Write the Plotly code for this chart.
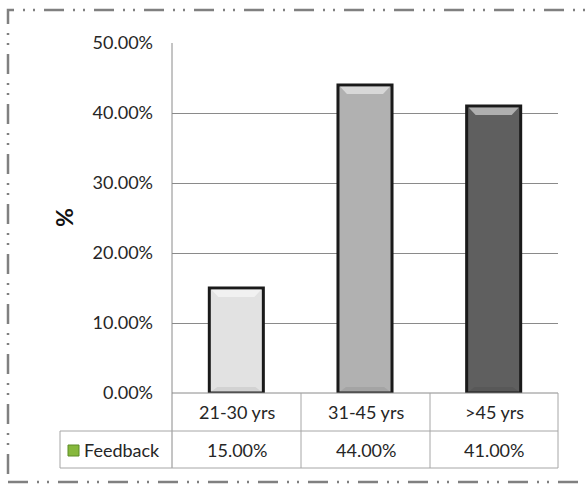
import plotly.graph_objects as go

# Feedback share by age group
categories = ["21-30 yrs", "31-45 yrs", ">45 yrs"]
feedback_pct = [15.0, 44.0, 41.0]
series_name = "Feedback"
bar_colors = ["#e2e2e2", "#b1b1b1", "#5f5f5f"]
y_ticks = [0, 10, 20, 30, 40, 50]

W, H = 587, 485
L, R, T, B = 172, 29, 43, 92
PW, PH = W - L - R, H - T - B
FONT = "Lato"
FS = 18
GRID = "#8a8a8a"
TABLE_LINE = "#a6a6a6"
TEXT = "#262626"


def px(x):
    return (x - L) / PW


def py(y):
    return (H - B - y) / PH


xs = list(range(len(categories)))
bar_w = 0.42

fig = go.Figure()
fig.add_trace(go.Bar(
    x=xs, y=feedback_pct, width=bar_w, name=series_name,
    marker=dict(color=bar_colors, line=dict(color="#1a1a1a", width=3)),
    showlegend=False, hoverinfo="skip",
))

# bevel highlight on the top of every bar, and a soft shade at its foot
u_x = 1 / 129.0          # one pixel in category units
u_y = 50.0 / PH          # one pixel in value units
for x, v in zip(xs, feedback_pct):
    hw = bar_w / 2
    top = v - 1.5 * u_y
    low = v - 9 * u_y
    fig.add_trace(go.Scatter(
        x=[x - hw + 2 * u_x, x + hw - 2 * u_x, x + hw - 9 * u_x, x - hw + 9 * u_x, x - hw + 2 * u_x],
        y=[top, top, low, low, top],
        fill="toself", mode="lines", line=dict(width=0),
        fillcolor="rgba(255,255,255,0.5)", showlegend=False, hoverinfo="skip",
    ))
    bot = 1.5 * u_y
    up = 6 * u_y
    fig.add_trace(go.Scatter(
        x=[x - hw + 2 * u_x, x + hw - 2 * u_x, x + hw - 8 * u_x, x - hw + 8 * u_x, x - hw + 2 * u_x],
        y=[bot, bot, up, up, bot],
        fill="toself", mode="lines", line=dict(width=0),
        fillcolor="rgba(0,0,0,0.07)", showlegend=False, hoverinfo="skip",
    ))

fig.update_layout(
    width=W, height=H,
    margin=dict(l=L, r=R, t=T, b=B),
    paper_bgcolor="white", plot_bgcolor="white",
    font=dict(family=FONT, size=FS, color=TEXT),
    xaxis=dict(range=[-0.5, len(categories) - 0.5], showgrid=False, zeroline=False,
               showticklabels=False, showline=False, fixedrange=True),
    yaxis=dict(range=[0, 50], tickvals=y_ticks,
               ticktext=[f"{t:.2f}%" for t in y_ticks],
               showgrid=True, gridcolor=GRID, gridwidth=1, zeroline=False,
               showline=False, ticks="", ticklabelstandoff=18,
               tickfont=dict(family=FONT, size=FS, color=TEXT)),
)

shapes = []


def seg(x0, y0, x1, y1, color=TABLE_LINE, width=1):
    shapes.append(dict(type="line", xref="paper", yref="paper",
                       x0=px(x0), y0=py(y0), x1=px(x1), y1=py(y1),
                       line=dict(color=color, width=width)))


# value axis line, running down through the data table
seg(172, 43, 172, 468, GRID)
# data table grid
row1, row2, row3 = 393, 431, 468
cols = [172, 301, 430, 558]
seg(172, row1, 558, row1, GRID)
seg(60, row2, 558, row2)
seg(60, row3, 558, row3)
seg(60, row2, 60, row3)
for c in cols[1:]:
    seg(c, row1, c, row3)

# legend key
shapes.append(dict(type="rect", xref="paper", yref="paper",
                   x0=px(68), y0=py(456), x1=px(79), y1=py(445),
                   fillcolor="#86b83c", line=dict(color="#5c8c26", width=1)))

# outer chart frame
shapes.append(dict(type="rect", xref="paper", yref="paper",
                   x0=px(8), y0=py(482), x1=px(600), y1=py(10),
                   line=dict(color="#808080", width=2.5, dash="20px,9px,2px,8px,2px,9px"),
                   fillcolor="rgba(0,0,0,0)", layer="above"))
fig.update_layout(shapes=shapes)

annotations = []
for i, (cat, v) in enumerate(zip(categories, feedback_pct)):
    cx = (cols[i] + cols[i + 1]) / 2
    annotations.append(dict(x=px(cx), y=py((row1 + row2) / 2), xref="paper", yref="paper",
                            text=cat, showarrow=False, xanchor="center", yanchor="middle",
                            font=dict(family=FONT, size=FS, color=TEXT)))
    annotations.append(dict(x=px(cx), y=py((row2 + row3) / 2), xref="paper", yref="paper",
                            text=f"{v:.2f}%", showarrow=False, xanchor="center", yanchor="middle",
                            font=dict(family=FONT, size=FS, color=TEXT)))
annotations.append(dict(x=px(82), y=py((row2 + row3) / 2), xref="paper", yref="paper",
                        text=series_name, showarrow=False, xanchor="left", yanchor="middle",
                        font=dict(family=FONT, size=FS, color=TEXT)))
annotations.append(dict(x=px(64), y=0.5, xref="paper", yref="paper",
                        text="<b>%</b>", textangle=-90, showarrow=False,
                        xanchor="center", yanchor="middle",
                        font=dict(family=FONT, size=23, color="#111111")))
fig.update_layout(annotations=annotations)

fig.write_html("out.html")
